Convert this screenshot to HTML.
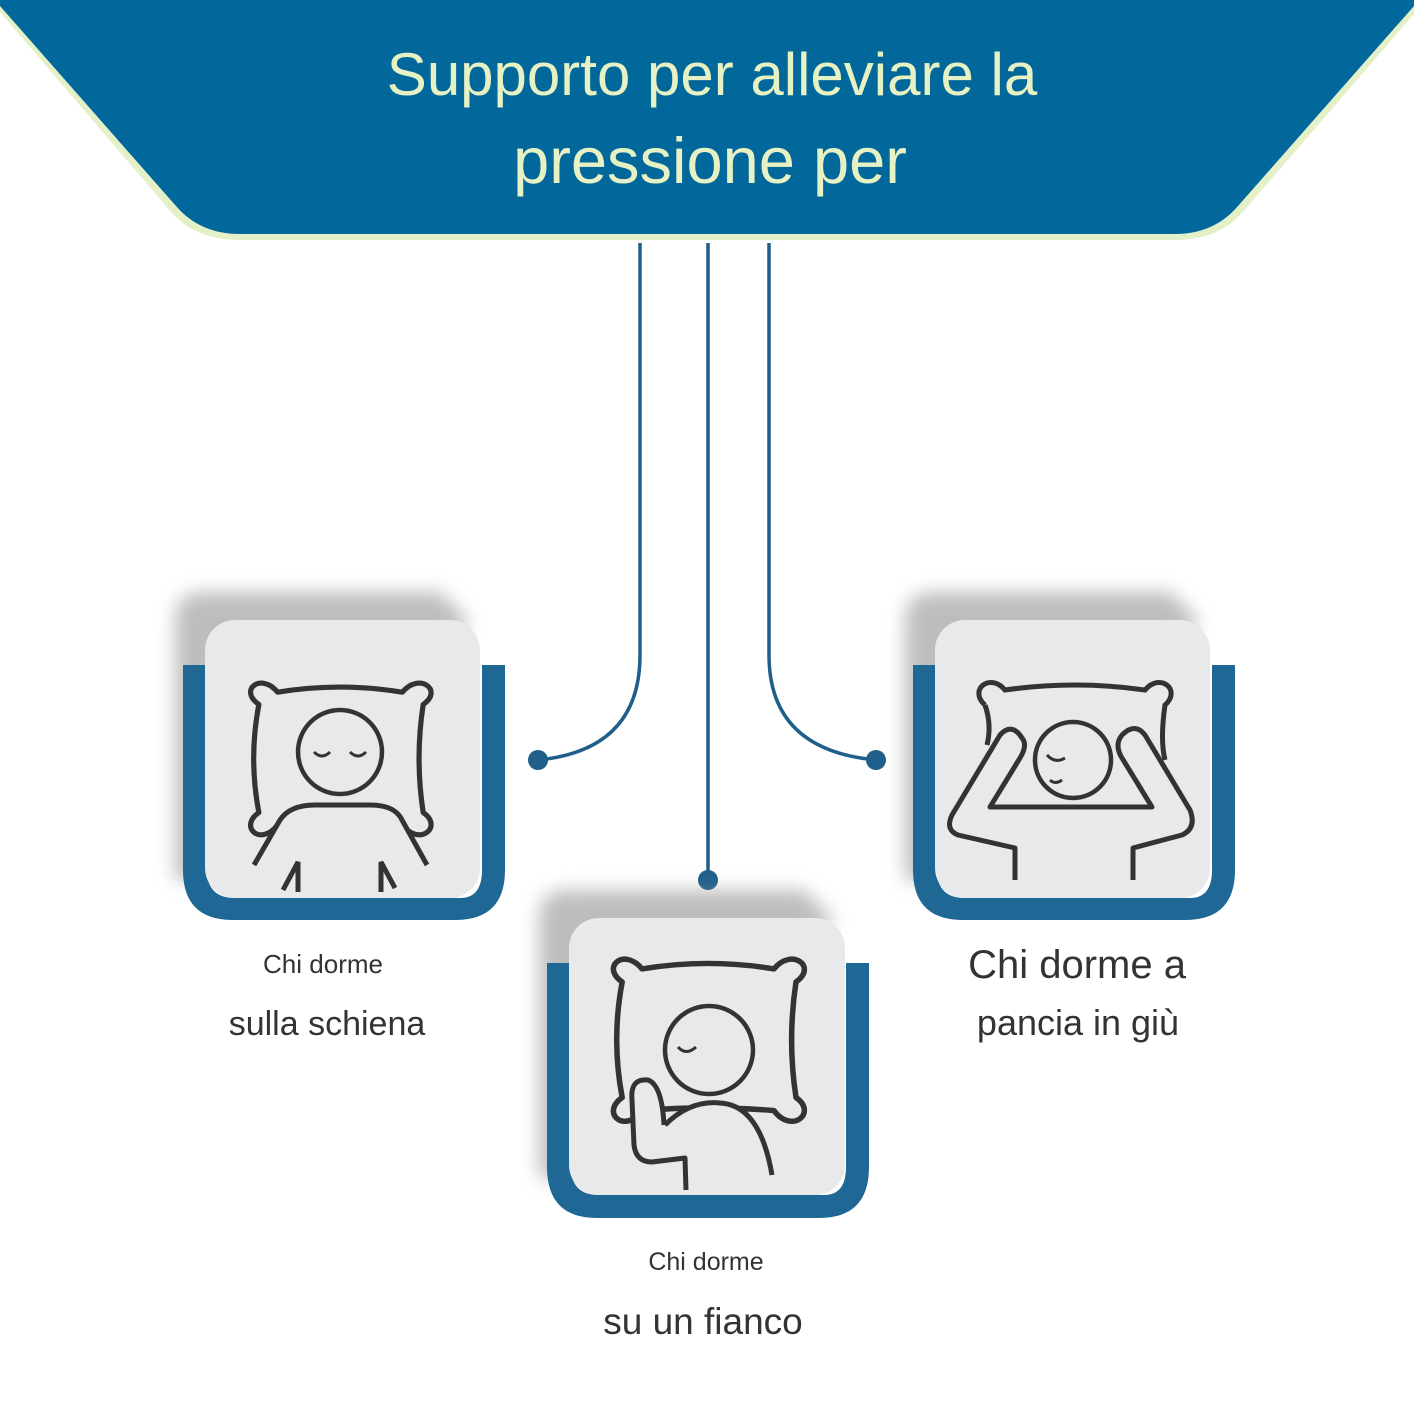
<!DOCTYPE html>
<html><head><meta charset="utf-8"><style>
html,body{margin:0;padding:0;background:#fff;}
svg{display:block;}
text{font-family:"Liberation Sans",sans-serif;}
</style></head><body>
<svg width="1414" height="1414" viewBox="0 0 1414 1414" xmlns="http://www.w3.org/2000/svg">
<defs>
<filter id="blur" x="-20%" y="-20%" width="140%" height="140%"><feGaussianBlur stdDeviation="9"/></filter>
<path id="pillow" d="M22,22 C2,8 24,-10 40,10 Q100,0 160,10 C176,-10 200,8 180,22 Q172,75 180,128 C200,142 176,162 160,140 Q100,135 40,140 C24,162 2,142 22,128 Q12,75 22,22Z" fill="none" stroke="#333" stroke-width="5" stroke-linejoin="round"/>
</defs>
<!-- banner -->
<path d="M0,4 L0,12 L172,213 Q196,240 240,240 L1175,240 Q1218,240 1242,213 L1414,14 L1414,4 Z" fill="#e3f0c8"/>
<path d="M0,0 L1414,0 L1414,6 L1238,206 Q1214,234 1175,234 L240,234 Q200,234 176,206 L0,6Z" fill="#02679a"/>
<text x="712" y="95" font-size="60" fill="#e6f2c4" text-anchor="middle">Supporto per alleviare la</text>
<text x="710" y="183" font-size="65" fill="#e6f2c4" text-anchor="middle">pressione per</text>
<!-- connectors -->
<g fill="none" stroke="#1f5f8a" stroke-width="3.5">
<path d="M640,243 L640,655 Q640,750 538,760"/>
<path d="M708,243 L708,880"/>
<path d="M769,243 L769,655 Q769,750 876,760"/>
</g>
<g fill="#1f5f8a"><circle cx="538" cy="760" r="10"/><circle cx="708" cy="880" r="10"/><circle cx="876" cy="760" r="10"/></g>

<g>
<path d="M175,620 Q175,592 205,592 L440,592 L470,622 L205,880 L175,880Z" fill="#888" opacity="0.55" filter="url(#blur)"/>
<path d="M183,665 L207,665 L207,870 Q207,898 235,898 L460,898 Q482,898 482,870 L482,665 L505,665 L505,870 Q505,920 455,920 L233,920 Q183,920 183,870Z" fill="#1f6794"/>
<rect x="205" y="620" width="275" height="278" rx="30" fill="#e8e9ea"/>
<use href="#pillow" transform="translate(236,682) scale(1.04,1.02)"/>
<circle cx="340" cy="752" r="42" fill="#e8e9ea" stroke="#333" stroke-width="4.5"/>
<path d="M314,752 q8,8 16,0 M350,752 q8,8 16,0" fill="none" stroke="#333" stroke-width="3"/>
<path d="M254,865 L280,820 Q290,805 315,805 L370,805 Q395,805 402,820 L427,865" fill="#e8e9ea" stroke="#333" stroke-width="5"/>
<path d="M283,890 L298,862 L298,892 M381,892 L381,862 L395,888" fill="none" stroke="#333" stroke-width="5"/>
</g>

<g>
<path d="M539,918 Q539,890 569,890 L804,890 L834,920 L569,1178 L539,1178Z" fill="#888" opacity="0.55" filter="url(#blur)"/>
<path d="M547,963 L571,963 L571,1167 Q571,1195 599,1195 L824,1195 Q846,1195 846,1167 L846,963 L869,963 L869,1167 Q869,1218 819,1218 L597,1218 Q547,1218 547,1167Z" fill="#1f6794"/>
<rect x="569" y="918" width="276" height="277" rx="30" fill="#e8e9ea"/>
<use href="#pillow" transform="translate(598,958) scale(1.1,1.09)"/>
<circle cx="709" cy="1050" r="44" fill="#e8e9ea" stroke="#333" stroke-width="4.5"/>
<path d="M678,1047 q8,9 18,0" fill="none" stroke="#333" stroke-width="3"/>
<path d="M665,1125 Q690,1100 720,1103 Q760,1105 772,1175" fill="#e8e9ea" stroke="#333" stroke-width="5"/>
<path d="M664,1125 Q662,1085 648,1080 Q630,1078 632,1100 L634,1145 Q636,1162 652,1162 L685,1158 L686,1190" fill="#e8e9ea" stroke="#333" stroke-width="5" stroke-linejoin="round"/>
</g>

<g>
<path d="M905,620 Q905,592 935,592 L1170,592 L1200,622 L935,880 L905,880Z" fill="#888" opacity="0.55" filter="url(#blur)"/>
<path d="M913,665 L937,665 L937,870 Q937,898 965,898 L1190,898 Q1212,898 1212,870 L1212,665 L1235,665 L1235,870 Q1235,920 1185,920 L963,920 Q913,920 913,870Z" fill="#1f6794"/>
<rect x="935" y="620" width="275" height="278" rx="30" fill="#e8e9ea"/>
<path d="M985,705 C968,690 990,672 1005,690 Q1075,680 1145,690 C1160,672 1182,690 1165,705 Q1160,740 1165,760" fill="none" stroke="#333" stroke-width="5"/>
<path d="M985,705 Q992,725 987,745" fill="none" stroke="#333" stroke-width="5"/>
<circle cx="1073" cy="760" r="38" fill="#e8e9ea" stroke="#333" stroke-width="4.5"/>
<path d="M1047,755 q8,9 18,3 M1050,780 q5,5 12,0" fill="none" stroke="#333" stroke-width="3"/>
<path d="M1015,880 L1015,848 L958,835 Q945,830 952,815 L1000,735 Q1012,722 1022,738 Q1028,745 1020,758 L990,807 L1152,807 L1122,758 Q1114,745 1122,735 Q1135,722 1145,735 L1190,810 Q1197,828 1182,835 L1133,848 L1133,880" fill="none" stroke="#333" stroke-width="5" stroke-linejoin="round"/>
</g>

<text x="323" y="973" font-size="26" fill="#333" text-anchor="middle">Chi dorme</text>
<text x="327" y="1035" font-size="34" fill="#333" text-anchor="middle">sulla schiena</text>
<text x="706" y="1270" font-size="25" fill="#333" text-anchor="middle">Chi dorme</text>
<text x="703" y="1334" font-size="37" fill="#333" text-anchor="middle">su un fianco</text>
<text x="1077" y="978" font-size="40" fill="#333" text-anchor="middle">Chi dorme a</text>
<text x="1078" y="1035" font-size="36" fill="#333" text-anchor="middle">pancia in giù</text>
</svg>
</body></html>
